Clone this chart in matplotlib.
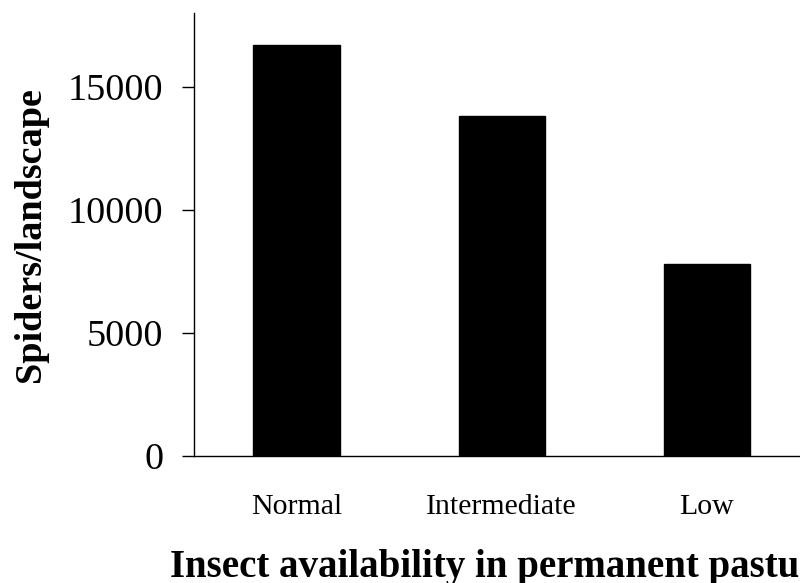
import matplotlib
matplotlib.use("Agg")
import matplotlib.pyplot as plt

categories = ["Normal", "Intermediate", "Low"]
spiders = [16700, 13800, 7800]
yticks = [0, 5000, 10000, 15000]

plt.rcParams['font.family'] = ['Liberation Serif', 'DejaVu Serif']

fig = plt.figure(figsize=(8, 5.83), dpi=100)
ax = fig.add_axes([0.2425, 0.2178, 0.769, 0.760])

ax.bar(range(len(categories)), spiders, width=0.42, color='black', edgecolor='black')

ax.set_xlim(-0.5, 2.5)
ax.set_ylim(0, 18000)
ax.set_yticks(yticks)
ax.set_yticklabels([str(v) for v in yticks], fontsize=27.5)
ax.set_xticks(range(len(categories)))
ax.set_xticklabels(categories, fontsize=21.5)

ax.tick_params(axis='y', direction='out', length=8.6, width=1, pad=13.5)
ax.tick_params(axis='x', length=0, pad=27)

ax.spines['top'].set_visible(False)
ax.spines['right'].set_visible(False)
ax.spines['left'].set_linewidth(1)
ax.spines['bottom'].set_linewidth(1)

# label sits to the left of the tick labels, like the original
ax.set_ylabel("Spiders/landscape", fontsize=27.5, fontweight='bold')
ax.yaxis.set_label_coords(-0.237, 0.5)
# the original is wider than the figure and gets clipped on the right
ax.set_xlabel("Insect availability in permanent pasture", fontsize=28, fontweight='bold')
ax.xaxis.set_label_coords(0.5, -0.21)

fig.savefig("out.png", dpi=100)
